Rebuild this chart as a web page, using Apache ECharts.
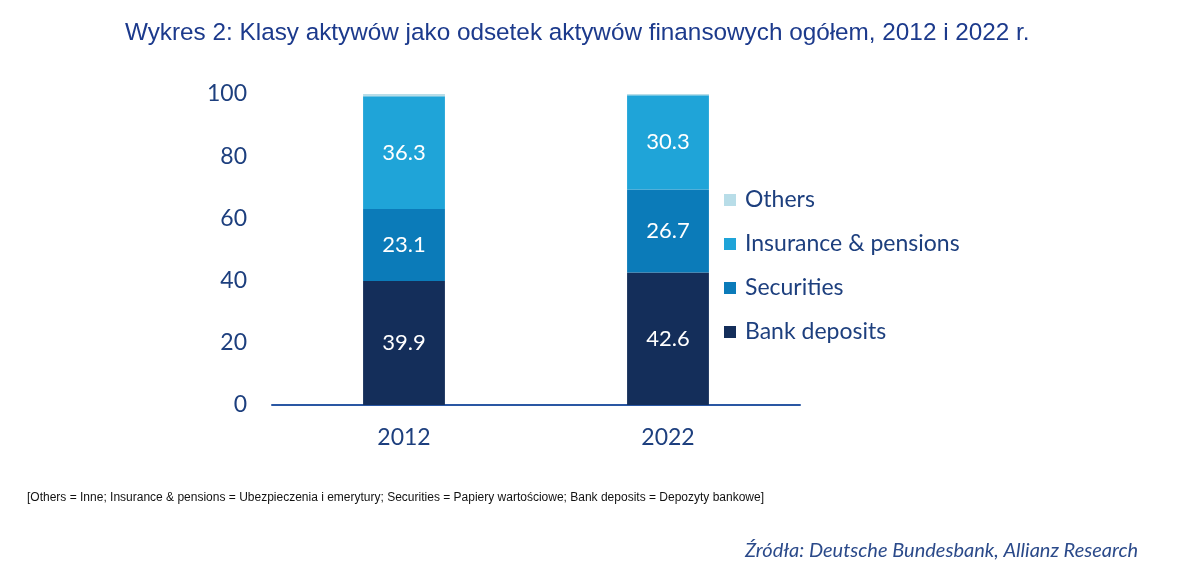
<!DOCTYPE html>
<html>
<head>
<meta charset="utf-8">
<script src="https://cdn.jsdelivr.net/npm/echarts@6/dist/echarts.min.js"></script>
<style>
html,body{margin:0;padding:0;background:#fff;}
#c{width:1200px;height:576px;}
</style>
</head>
<body>
<div id="c"></div>
<script>
const categories = ['2012', '2022'];
const bankDeposits = [39.9, 42.6];
const securities = [23.1, 26.7];
const insurance = [36.3, 30.3];
const others = [0.7, 0.4];
const yTicks = [0, 20, 40, 60, 80, 100];

const titleText = 'Wykres 2: Klasy aktywów jako odsetek aktywów finansowych ogółem, 2012 i 2022 r.';
const noteText = '[Others = Inne; Insurance & pensions = Ubezpieczenia i emerytury; Securities = Papiery wartościowe; Bank deposits = Depozyty bankowe]';
const sourceText = 'Źródła: Deutsche Bundesbank, Allianz Research';

const FONT = 'Lato';
const TXT = '#1d3f7e';

const chart = echarts.init(document.getElementById('c'), null, {renderer: 'canvas'});

const labelCfg = {
  show: true,
  position: 'inside',
  color: '#ffffff',
  fontFamily: FONT,
  fontSize: 22,
  formatter: p => p.value.toFixed(1)
};

chart.setOption({
  animation: false,
  backgroundColor: '#ffffff',
  title: [
    {
      text: titleText,
      left: 125, top: 21, padding: 0,
      textStyle: {fontFamily: 'Liberation Sans', fontSize: 24.3, fontWeight: 'normal', color: '#1c3a8c'}
    },
    {
      text: noteText,
      left: 27, top: 492, padding: 0,
      textStyle: {fontFamily: 'Liberation Sans', fontSize: 12, fontWeight: 'normal', color: '#111111'}
    },
    {
      text: sourceText,
      left: 745, top: 541, padding: 0,
      textStyle: {fontFamily: FONT, fontStyle: 'italic', fontSize: 20, fontWeight: 'normal', color: '#2b4a8a'}
    }
  ],
  grid: {left: 272, width: 528, top: 94, height: 311},
  legend: {
    orient: 'vertical',
    left: 724, top: 188, padding: 0,
    data: ['Others', 'Insurance & pensions', 'Securities', 'Bank deposits'],
    icon: 'rect',
    itemWidth: 12, itemHeight: 12,
    itemGap: 20,
    textStyle: {fontFamily: FONT, fontSize: 23, color: TXT, lineHeight: 24, padding: [0, 0, 0, 4]}
  },
  xAxis: {
    type: 'category',
    data: categories,
    axisLine: {show: true, lineStyle: {color: '#2a57a3', width: 2}},
    axisTick: {show: false},
    axisLabel: {fontFamily: FONT, fontSize: 23, color: TXT, margin: 21}
  },
  yAxis: {
    type: 'value',
    min: 0, max: 100, interval: 20,
    axisLine: {show: false},
    axisTick: {show: false},
    splitLine: {show: false},
    axisLabel: {fontFamily: FONT, fontSize: 23, color: TXT, margin: 25,
      formatter: v => yTicks.includes(v) ? String(v) : ''}
  },
  series: [
    {name: 'Bank deposits', type: 'bar', stack: 's', data: bankDeposits, barWidth: '31%',
      itemStyle: {color: '#142e5a'}, label: labelCfg},
    {name: 'Securities', type: 'bar', stack: 's', data: securities,
      itemStyle: {color: '#0b7bb9'}, label: labelCfg},
    {name: 'Insurance & pensions', type: 'bar', stack: 's', data: insurance,
      itemStyle: {color: '#1fa4d8'}, label: labelCfg},
    {name: 'Others', type: 'bar', stack: 's', data: others,
      itemStyle: {color: '#b8dde8'}, label: {show: false}}
  ]
});
</script>
</body>
</html>
